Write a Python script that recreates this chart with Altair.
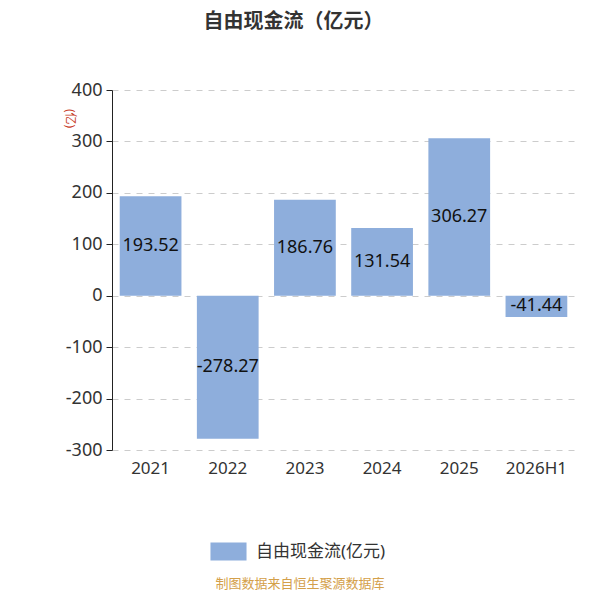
import altair as alt
import pandas as pd

years = ["2021", "2022", "2023", "2024", "2025", "2026H1"]
values = [193.52, -278.27, 186.76, 131.54, 306.27, -41.44]
series_name = "自由现金流(亿元)"

df = pd.DataFrame({"year": years, "value": values, "series": [series_name] * len(years)})
df["label"] = df["value"].map(lambda v: f"{v:.2f}")
df["mid"] = df["value"] / 2

FONT = "Noto Sans, Noto Sans CJK SC"
BAR = "#8eaedc"

x = alt.X("year:N", sort=years, title=None,
          scale=alt.Scale(paddingInner=0.2, paddingOuter=0.1),
          axis=alt.Axis(orient="bottom", labelAngle=0, domain=False, ticks=False,
                        labelFontSize=17, labelColor="#333333", labelPadding=10, labelFont=FONT))

bars = alt.Chart(df).mark_bar(color=BAR).encode(
    x=x,
    y=alt.Y("value:Q", title="(亿)",
            scale=alt.Scale(domain=[-300, 400], nice=False),
            axis=alt.Axis(values=[-300, -200, -100, 0, 100, 200, 300, 400],
                          labelExpr="toString(datum.value)",
                          grid=True, gridDash=[6, 6], gridColor="#cccccc",
                          domain=True, domainColor="#222222", tickColor="#222222",
                          tickSize=6, labelFontSize=18, labelColor="#333333",
                          labelFont=FONT, labelPadding=4,
                          titleColor="#c8402a", titleFontSize=12, titleFontWeight="normal",
                          titleFont=FONT, titleAngle=90, titleX=-50, titleY=28,
                          titleAlign="center")),
    color=alt.Color("series:N", scale=alt.Scale(range=[BAR]),
                    legend=alt.Legend(title=None, orient="none", legendX=98, legendY=443,
                                      symbolType="M-1,-0.5H1V0.5H-1Z", symbolSize=1300,
                                      symbolStrokeWidth=0, symbolOpacity=1,
                                      labelFontSize=17, labelColor="#333333", labelFont=FONT,
                                      labelOffset=9)),
)

labels = alt.Chart(df).mark_text(fontSize=18, color="#111111", font=FONT).encode(
    x=alt.X("year:N", sort=years),
    y=alt.Y("mid:Q"),
    text="label:N",
)

footer = alt.Chart(pd.DataFrame({"t": ["制图数据来自恒生聚源数据库"]})).mark_text(
    fontSize=13, color="#d4a04a", font=FONT
).encode(x=alt.value(188), y=alt.value(494), text="t:N")

chart = alt.layer(bars, labels, footer).properties(
    width=463, height=360,
    title=alt.Title("自由现金流（亿元）", fontSize=20, fontWeight="bold", color="#333333",
                    font=FONT, anchor="middle", dx=-50, offset=49),
    autosize=alt.AutoSizeParams(type="none"),
    padding={"left": 104, "top": 82, "right": 17, "bottom": 142},
).configure_view(stroke=None)

chart.save("out.html", embed_options={"renderer": "svg", "actions": False})
